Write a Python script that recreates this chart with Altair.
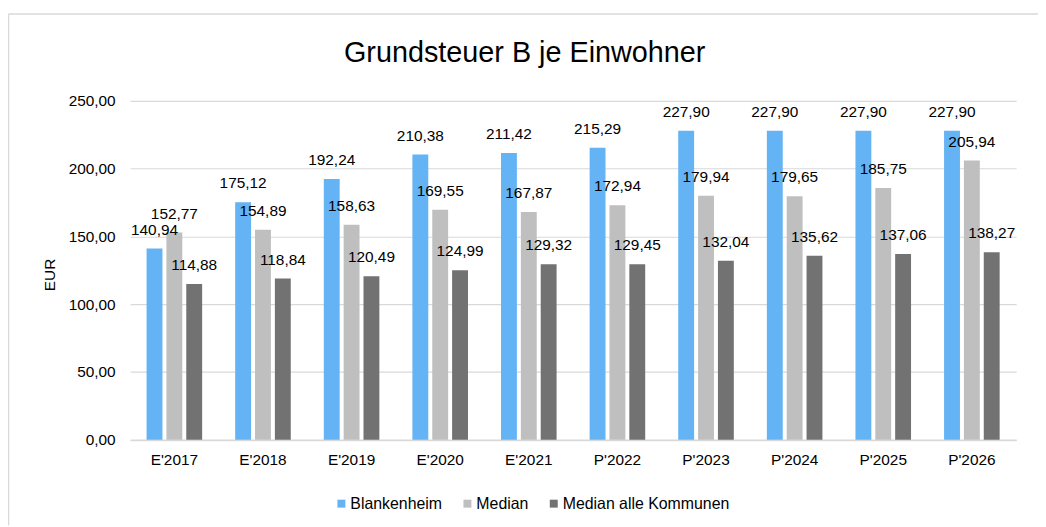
import altair as alt
import pandas as pd

years = ["E'2017", "E'2018", "E'2019", "E'2020", "E'2021",
         "P'2022", "P'2023", "P'2024", "P'2025", "P'2026"]
series_names = ["Blankenheim", "Median", "Median alle Kommunen"]
blankenheim = [140.94, 175.12, 192.24, 210.38, 211.42, 215.29, 227.90, 227.90, 227.90, 227.90]
median = [152.77, 154.89, 158.63, 169.55, 167.87, 172.94, 179.94, 179.65, 185.75, 205.94]
median_alle = [114.88, 118.84, 120.49, 124.99, 129.32, 129.45, 132.04, 135.62, 137.06, 138.27]
colors = ["#63b3f5", "#bfbfbf", "#727272"]
y_ticks = [0, 50, 100, 150, 200, 250]
title_text = "Grundsteuer B je Einwohner"

rows = []
for name, vals in zip(series_names, [blankenheim, median, median_alle]):
    for yr, v in zip(years, vals):
        rows.append({"Jahr": yr, "Serie": name, "Wert": v})
df = pd.DataFrame(rows)

FONT = "Liberation Sans"
W, H = 893, 341.5

x_enc = alt.X("Jahr:N", sort=years, title=None,
              scale=alt.Scale(paddingInner=0.328, paddingOuter=0.164),
              axis=alt.Axis(labelAngle=0, ticks=False, domainColor="#d9d9d9",
                            domainWidth=1.5, labelPadding=13, labelFontSize=15.5,
                            labelFont=FONT, labelColor="#000000", grid=False))
xo_enc = alt.XOffset("Serie:N", sort=series_names,
                     scale=alt.Scale(paddingInner=0.2, paddingOuter=0.1))

base = alt.Chart(df)

bars = base.mark_bar().encode(
    x=x_enc,
    xOffset=xo_enc,
    y=alt.Y("Wert:Q", title="EUR",
            scale=alt.Scale(domain=[0, 250], nice=False),
            axis=alt.Axis(values=y_ticks, ticks=False, domain=False,
                          gridColor="#d9d9d9", gridWidth=1.2,
                          labelExpr="replace(format(datum.value, '.2f'), '.', ',')",
                          labelPadding=15, labelFontSize=15.5, labelFont=FONT,
                          labelColor="#000000",
                          titleFont=FONT, titleFontSize=15.5, titleFontWeight="normal",
                          titleColor="#000000", titleAngle=270, titleX=-81, titleY=175,
                          titleAlign="center", titleBaseline="middle")),
    color=alt.Color("Serie:N", sort=series_names,
                    scale=alt.Scale(domain=series_names, range=colors),
                    legend=alt.Legend(title=None, orient="none", direction="horizontal",
                                      legendX=205, legendY=398, symbolType="square",
                                      symbolSize=64, symbolStrokeWidth=0,
                                      labelFont=FONT, labelFontSize=16,
                                      labelColor="#000000", labelOffset=1,
                                      labelLimit=0,
                                      columnPadding=17, padding=0)),
)

labels = base.transform_calculate(
    lbl="replace(format(datum.Wert, '.2f'), '.', ',')"
).mark_text(baseline="alphabetic", dy=-14, font=FONT, fontSize=15.5,
            color="#000000").encode(
    x=alt.X("Jahr:N", sort=years),
    xOffset=xo_enc,
    y=alt.Y("Wert:Q"),
    text="lbl:N",
)

single = pd.DataFrame({"k": [0]})
frame_top = alt.Chart(single).mark_rule(color="#d9d9d9", strokeWidth=1.5).encode(
    x=alt.value(-122.5), x2=alt.value(915), y=alt.value(-87.5))
frame_left = alt.Chart(single).mark_rule(color="#d9d9d9", strokeWidth=1.5).encode(
    x=alt.value(-122.5), y=alt.value(-87.5), y2=alt.value(428))
title_mark = alt.Chart(single).mark_text(
    text=title_text, font=FONT, fontSize=29, color="#000000",
    align="center", baseline="alphabetic").encode(
    x=alt.value(397.7), y=alt.value(-39.5))

chart = alt.layer(bars, labels, frame_top, frame_left, title_mark).properties(
    width=W, height=H,
    autosize=alt.AutoSizeParams(type="none"),
    padding={"left": 123, "top": 91.5, "right": 22, "bottom": 86},
).configure_view(stroke=None)

chart.save("out.html", embed_options={"renderer": "svg", "actions": False})
